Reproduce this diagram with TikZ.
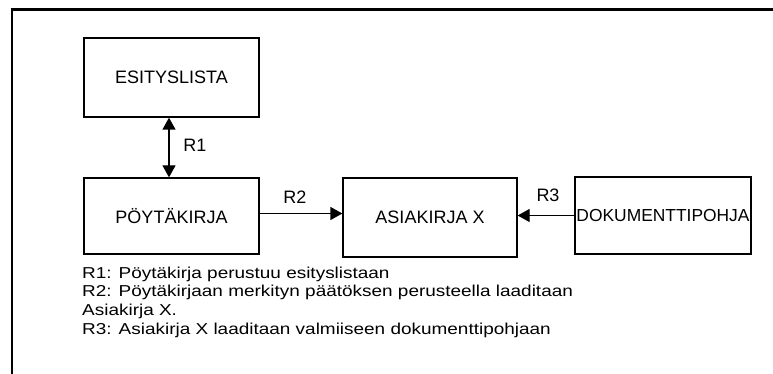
\documentclass[tikz,border=0pt]{standalone}
\usepackage{fontspec}
\setmainfont{Liberation Sans}
\newfontfamily\legendfont[FakeStretch=1.2]{Liberation Sans}
\usetikzlibrary{arrows.meta}
\begin{document}
\begin{tikzpicture}[x=1pt,y=-1pt,
  entity/.style={draw, line width=1.3pt, inner sep=0pt,
    font=\fontsize{18}{20}\selectfont},
  tip/.style={},
  rel/.style={line width=1.3pt, -{Triangle[length=12pt,width=13pt]}},
  birel/.style={line width=1.3pt, {Triangle[length=12pt,width=13pt]}-{Triangle[length=12pt,width=13pt]}},
  rlabel/.style={inner sep=0pt, font=\fontsize{18}{20}\selectfont},
  legend/.style={inner sep=0pt, anchor=north west, align=left,
    font=\legendfont\fontsize{15.8}{18.7}\selectfont},
  frame/.style={line width=2.5pt}]
\useasboundingbox (0,0) rectangle (773,374);

% open frame: top and left edges only
\coordinate (fbl) at (12,374);
\coordinate (ftl) at (12,9.5);
\coordinate (ftr) at (773,9.5);
\draw[frame] (fbl) -- (ftl) -- (ftr);

% entities
\node[entity, minimum width=175pt, minimum height=79pt] (esitys) at (171.5,77.5) {ESITYSLISTA};
\node[entity, minimum width=175pt, minimum height=76pt] (poyta) at (171.5,216) {PÖYTÄKIRJA};
\node[entity, minimum width=174pt, minimum height=79pt] (asia) at (430,217.5) {ASIAKIRJA X};
\node[entity, minimum width=176pt, minimum height=77pt,
  font=\fontsize{17.4}{20}\selectfont] (doc) at (663,215.5) {DOKUMENTTIPOHJA};

% relations
\draw[birel] ([xshift=-2.5pt]esitys.south) -- ([xshift=-2.5pt]poyta.north);
\draw[rel] ([yshift=2.5pt]poyta.east) -- ([yshift=2.5pt]poyta.east -| asia.west);
\draw[rel] (doc.west) -- (doc.west -| asia.east);

\node[rlabel] (r1) at (195,145) {R1};
\node[rlabel] (r2) at (295,197) {R2};
\node[rlabel] (r3) at (548,195) {R3};

% explanation of the relations
\node[legend] (expl) at (82,266.5) {R1: Pöytäkirja perustuu esityslistaan\\
R2: Pöytäkirjaan merkityn päätöksen perusteella laaditaan\\
Asiakirja X.\\
R3: Asiakirja X laaditaan valmiiseen dokumenttipohjaan};
\end{tikzpicture}
\end{document}
